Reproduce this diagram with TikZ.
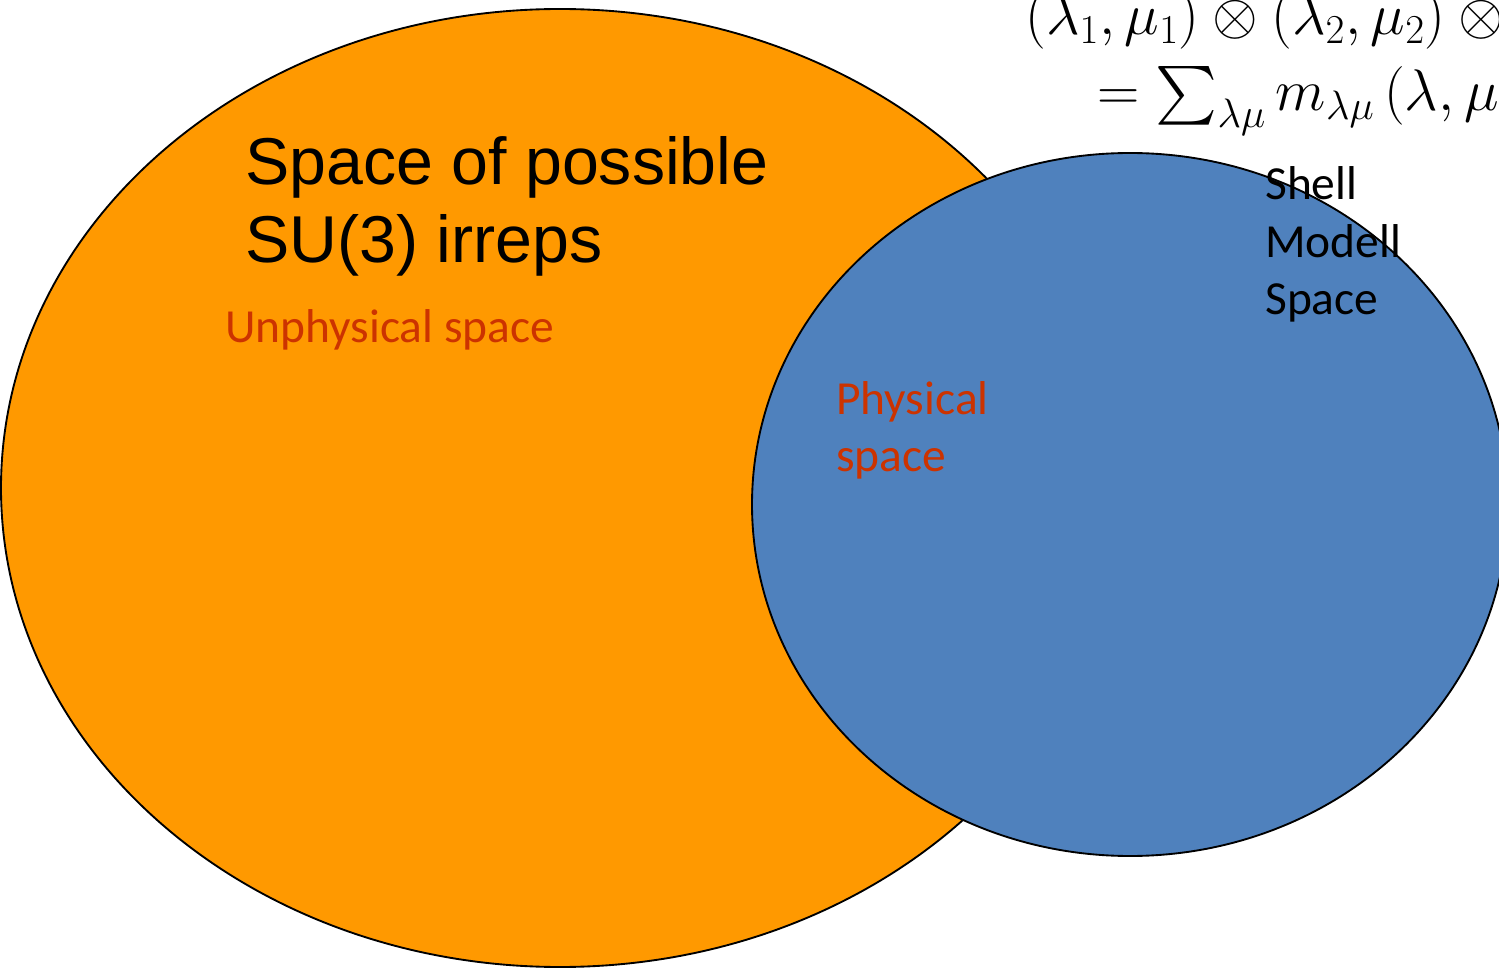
\RequirePackage{fix-cm}
\documentclass[tikz,border=0pt]{standalone}
\usepackage{fontspec}
\usepackage{amsmath}
\DeclareFontShape{OMX}{cmex}{m}{n}{<->cmex10}{}
\newfontfamily\arialfont{Liberation Sans}
\newfontfamily\calibfont{Carlito}
\definecolor{irreporange}{RGB}{255, 153, 0}
\definecolor{shellblue}{RGB}{79, 129, 189}
\definecolor{physred}{RGB}{204, 51, 0}

\begin{document}
\begin{tikzpicture}[
  x=0.75pt, y=-0.75pt,
  every node/.style={inner sep=0pt, anchor=base west, align=left},
  region/.style={draw=black, line width=1.4pt},
  head/.style={font=\fontsize{49.7}{58.5}\selectfont\arialfont},
  calib/.style={font=\fontsize{35.6}{43.3}\selectfont\calibfont},
  phys/.style={calib, text=physred},
  formula/.style={font=\fontsize{44}{52}\selectfont}
]
  \clip (0,0) rectangle (1499,969);
  % the two regions
  \draw[region, fill=irreporange] (560,488) ellipse [x radius=559, y radius=479];
  \draw[region, fill=shellblue] (1130,504.5) ellipse [x radius=378, y radius=351.5];

  % multi-line nodes sit on the baseline of their last line
  \node[head]  (irreps) at (245,263)  {Space of possible\\SU(3) irreps};
  \node[phys]  (unphys) at (225,343)  {Unphysical space};
  \node[phys]  (phys)   at (836,472)  {Physical\\space};
  \node[calib] (shell)  at (1265,315) {Shell\\Modell\\Space};

  % coupling rule, cut off at the right edge
  \node[formula] (prod) at (1025,35)  {$(\lambda_1,\mu_1)\otimes(\lambda_2,\mu_2)\otimes{}$};
  \node[formula] (sum)  at (1097,111) {$=\sum_{\lambda\mu} m_{\lambda\mu}\,(\lambda,\mu)$};
\end{tikzpicture}
\end{document}
